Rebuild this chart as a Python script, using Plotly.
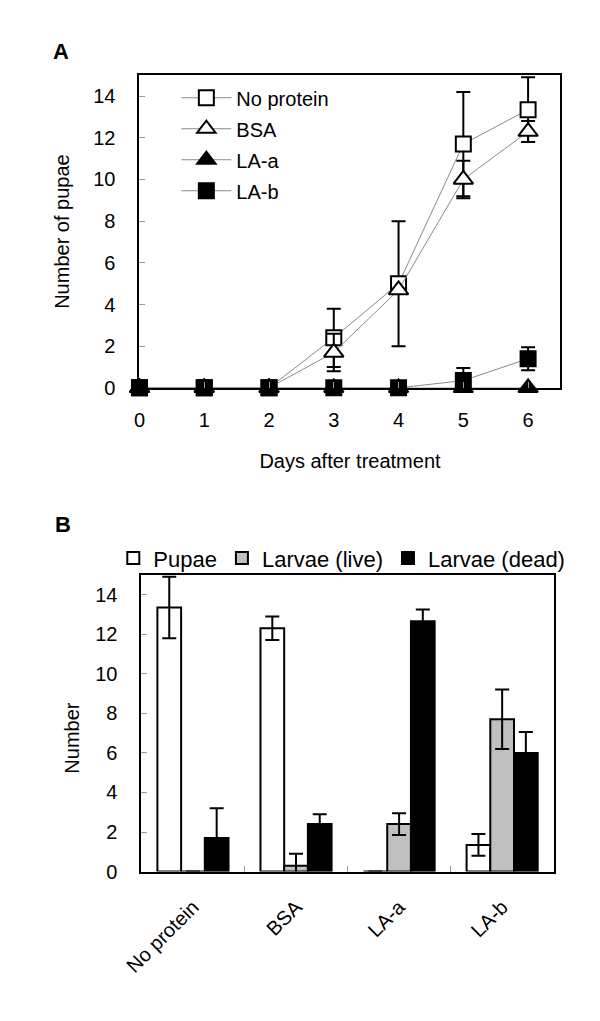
import plotly.graph_objects as go

FONT = "Liberation Sans, Arial, sans-serif"
W, H = 600, 1021

# ---------------- Panel A data ----------------
days = [0, 1, 2, 3, 4, 5, 6]
no_protein = [0, 0, 0, 2.4, 5.0, 11.7, 13.35]
no_protein_err = [0, 0, 0, 1.4, 3.0, 2.5, 1.55]
bsa = [0, 0, 0, 1.7, 4.7, 10.0, 12.3]
bsa_err = [0, 0, 0, 0.9, 0, 0.9, 0.5]
la_a = [0, 0, 0, 0, 0, 0, 0]
la_a_err = [0, 0, 0, 0, 0, 0, 0]
la_b = [0, 0, 0, 0, 0, 0.35, 1.4]
la_b_err = [0, 0, 0, 0, 0, 0.6, 0.55]

# ---------------- Panel B data ----------------
groups = ["No protein", "BSA", "LA-a", "LA-b"]
pupae = [13.35, 12.3, 0, 1.35]
pupae_err = [1.55, 0.6, 0, 0.55]
larvae_live = [0, 0.3, 2.4, 7.7]
larvae_live_err = [0, 0.6, 0.55, 1.5]
larvae_dead = [1.7, 2.4, 12.65, 6.0]
larvae_dead_err = [1.5, 0.5, 0.6, 1.05]

def px_x(p):
    return p / W

def px_y(p):
    return 1 - p / H

fig = go.Figure()

series_a = [
    ("No protein", no_protein, no_protein_err, "square", "white"),
    ("BSA", bsa, bsa_err, "triangle-up", "white"),
    ("LA-a", la_a, la_a_err, "triangle-up", "black"),
    ("LA-b", la_b, la_b_err, "square", "black"),
]
for name, vals, errs, sym, fill in series_a:
    fig.add_trace(go.Scatter(
        x=days, y=vals, name=name, mode="lines+markers",
        xaxis="x", yaxis="y", legend="legend", legendgroup=name,
        line=dict(color="#8a8a8a", width=1),
        marker=dict(symbol=sym, size=15 if sym == "square" else 17, color=fill,
                    line=dict(color="black", width=2)),
        error_y=dict(type="data", array=errs, visible=True, color="black",
                     thickness=2, width=7),
        cliponaxis=False,
    ))

bars = [
    ("Pupae", pupae, pupae_err, "white"),
    ("Larvae (live)", larvae_live, larvae_live_err, "#c0c0c0"),
    ("Larvae (dead)", larvae_dead, larvae_dead_err, "black"),
]
for name, vals, errs, col in bars:
    fig.add_trace(go.Bar(
        x=groups, y=vals, name=name, xaxis="x2", yaxis="y2", legend="legend2",
        marker=dict(color=col, line=dict(color="black", width=2)),
        error_y=dict(type="data", array=errs, visible=True, color="black",
                     thickness=2, width=7),
        cliponaxis=False,
    ))

axis_common = dict(
    showline=True, linecolor="black", linewidth=2, mirror=True,
    showgrid=False, zeroline=False, ticks="inside", ticklen=6,
    tickcolor="#9a9a9a", tickwidth=1,
    tickfont=dict(family=FONT, size=20, color="black"),
)

fig.update_layout(
    width=W, height=H,
    margin=dict(l=0, r=0, t=0, b=0),
    paper_bgcolor="white", plot_bgcolor="white",
    font=dict(family=FONT, size=20, color="black"),
    barmode="group", bargap=0.31, bargroupgap=0,
    xaxis=dict(domain=[px_x(117), px_x(551)], anchor="y", range=[0, 6.5],
               tickvals=days, ticklabelstandoff=13,
               title=dict(text="Days after treatment", standoff=24,
                          font=dict(family=FONT, size=20)),
               **axis_common),
    yaxis=dict(domain=[px_y(384), px_y(68)], anchor="x", range=[0, 15],
               tickvals=[0, 2, 4, 6, 8, 10, 12, 14], ticklabelstandoff=18,
               title=dict(text="Number of pupae", standoff=18,
                          font=dict(family=FONT, size=20)),
               **axis_common),
    xaxis2=dict(domain=[px_x(119), px_x(544)], anchor="y2", range=[-0.5, 3.5],
                tickson="boundaries", tickangle=-45, ticklabelstandoff=14,
                **axis_common),
    yaxis2=dict(domain=[px_y(873), px_y(573)], anchor="x2", range=[0, 15],
                tickvals=[0, 2, 4, 6, 8, 10, 12, 14], ticklabelstandoff=18,
                **axis_common),
    legend=dict(x=px_x(155), y=px_y(71), xanchor="left", yanchor="top",
                bgcolor="rgba(0,0,0,0)", tracegroupgap=2, itemwidth=50,
                font=dict(family=FONT, size=20)),
    legend2=dict(orientation="h", x=px_x(90), y=px_y(535), xanchor="left",
                 yanchor="top", bgcolor="rgba(0,0,0,0)",
                 font=dict(family=FONT, size=22)),
    annotations=[
        dict(text="<b>A</b>", x=px_x(36), y=px_y(44), xref="paper", yref="paper",
             xanchor="center", yanchor="middle",
             showarrow=False, font=dict(family=FONT, size=22)),
        dict(text="<b>B</b>", x=px_x(38), y=px_y(522), xref="paper", yref="paper",
             xanchor="center", yanchor="middle",
             showarrow=False, font=dict(family=FONT, size=22)),
        dict(text="Number", x=px_x(47), y=px_y(738), xref="paper", yref="paper",
             xanchor="center", yanchor="middle",
             showarrow=False, textangle=-90, font=dict(family=FONT, size=20)),
    ],
)

fig.write_html("out.html")
